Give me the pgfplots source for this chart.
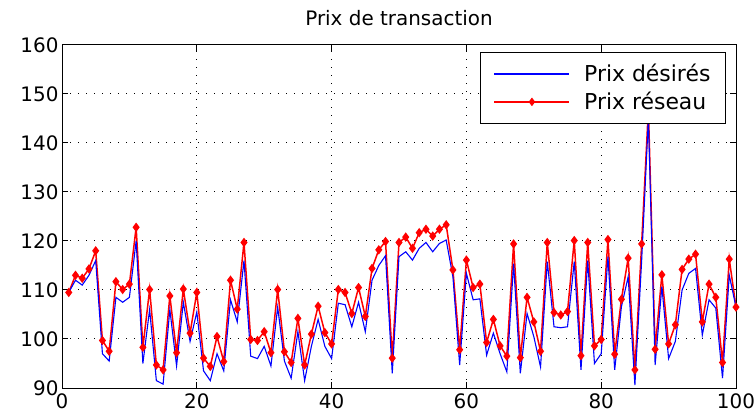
\documentclass[border=0pt]{standalone}
\usepackage{pgfplots}
\pgfplotsset{compat=1.18}
\usepackage{fontspec}
\setmainfont{DejaVu Sans}

\pgfplotstableread{
x y
1 109.5
2 112
3 111
4 113
5 116
6 97
7 95.5
8 108.5
9 107.5
10 108.5
11 120
12 95
13 106
14 91.5
15 90.8
16 106
17 94.5
18 107.5
19 99.5
20 105.5
21 93.5
22 91.5
23 97
24 93.5
25 108
26 103.5
27 116
28 96.5
29 96
30 98.5
31 94.5
32 106.5
33 95.5
34 92
35 101.5
36 91.5
37 98.5
38 104
39 98.5
40 96
41 107.3
42 107
43 102.5
44 107.5
45 101.5
46 112
47 115
48 117
49 93
50 116.8
51 117.8
52 116.1
53 118.5
54 119.7
55 117.8
56 119.5
57 120.2
58 112.7
59 94.7
60 113.4
61 108
62 108.2
63 96.7
64 101.2
65 97
66 93.3
67 115.4
68 93
69 105.2
70 100.5
71 94.3
72 115.8
73 102.5
74 102.3
75 102.5
76 115.8
77 93.7
78 116
79 95
80 97
81 116.8
82 93.7
83 106.6
84 112.7
85 90.6
86 116
87 145
88 94.7
89 110.7
90 96
91 99.5
92 110
93 113.4
94 114.4
95 100.8
96 108
97 106.3
98 92
99 113
100 106.5
}\desired

\pgfplotstableread{
x y
1 109.5
2 113
3 112.4
4 114.3
5 118
6 99.7
7 97.5
8 111.7
9 110.1
10 111.2
11 122.8
12 98.3
13 110.1
14 94.7
15 93.7
16 108.8
17 97.2
18 110.2
19 101.2
20 109.5
21 96.1
22 94.4
23 100.5
24 95.4
25 112
26 106.1
27 119.7
28 99.9
29 99.7
30 101.5
31 97.2
32 110.1
33 97.4
34 95.2
35 104.2
36 94.7
37 101
38 106.7
39 101.3
40 99
41 110.1
42 109.5
43 105.2
44 110.5
45 104.6
46 114.4
47 118.2
48 119.9
49 96.1
50 119.7
51 120.8
52 118.5
53 121.7
54 122.4
55 121
56 122.4
57 123.3
58 114.1
59 97.8
60 116.1
61 110.5
62 111.2
63 99.3
64 104
65 98.6
66 96.5
67 119.4
68 96.2
69 108.5
70 103.5
71 97.5
72 119.7
73 105.4
74 104.9
75 105.6
76 120.1
77 96.6
78 119.7
79 98.6
80 99.9
81 120.3
82 96.9
83 108.1
84 116.5
85 93.7
86 119.4
87 147
88 97.9
89 113.1
90 99
91 102.9
92 114.2
93 116.3
94 117.3
95 103.5
96 111.2
97 108.5
98 95.2
99 116.3
100 106.5
}\network

\begin{document}
\begin{tikzpicture}
\path[use as bounding box] (-62bp,-32bp) rectangle (694bp,388bp);
\begin{axis}[
  scale only axis, width=674bp, height=343bp,
  xmin=0, xmax=100, ymin=90, ymax=160,
  xtick={0,20,...,100}, ytick={90,100,...,160},
  tick align=inside, major tick length=6bp,
  grid=major,
  major grid style={black, line width=1bp, dash pattern=on 1bp off 7bp},
  axis line style={black, line width=1bp},
  tick style={black, line width=1bp},
  ticklabel style={font=\fontsize{20}{24}\selectfont},
  xticklabel style={yshift=-2bp},
  /pgf/number format/assume math mode=true,
  title={Prix de transaction},
  title style={font=\fontsize{20}{24}\selectfont, anchor=base, at={(0.5,1)}, yshift=14bp},
  legend style={at={(0.985,0.98)}, anchor=north east, draw=black, line width=1bp,
    fill=white, font=\fontsize{22}{26}\selectfont, inner xsep=13bp, inner ysep=10bp,
    row sep=5bp, column sep=12bp},
  legend cell align=left,
]
\addlegendimage{legend image code/.code={\draw[blue,line width=1.3bp](0bp,0bp)--(75bp,0bp);}}
\addlegendentry{Prix désirés}
\addlegendimage{legend image code/.code={\draw[red,line width=1.5bp](0bp,0bp)--(75bp,0bp);
  \draw[red] plot[mark=diamond*, mark size=3.5bp, mark options={fill=red}] coordinates {(37.5bp,0bp)};}}
\addlegendentry{Prix réseau}
\addplot[red, line width=1.5bp, mark=diamond*, mark size=3.5bp, mark options={fill=red}, forget plot] table {\network};
\addplot[blue, line width=1.1bp, forget plot] table {\desired};
\end{axis}
\end{tikzpicture}
\end{document}
